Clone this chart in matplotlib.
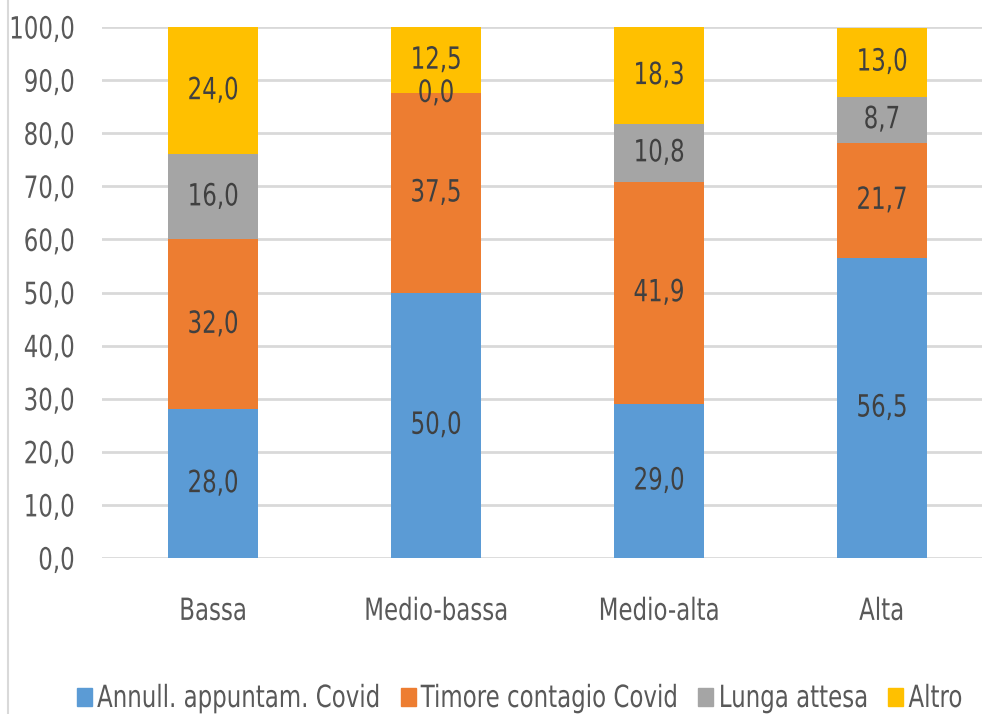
import matplotlib
matplotlib.use("Agg")
import matplotlib.pyplot as plt
import matplotlib.patheffects as pe
from matplotlib.patches import Rectangle
from matplotlib.lines import Line2D
from matplotlib.transforms import Affine2D
import numpy as np

plt.rcParams['font.family'] = ['DejaVu Sans']

categories = ["Bassa", "Medio-bassa", "Medio-alta", "Alta"]
series_names = ["Annull. appuntam. Covid", "Timore contagio Covid", "Lunga attesa", "Altro"]
annull = [28.0, 50.0, 29.0, 56.5]
timore = [32.0, 37.5, 41.9, 21.7]
lunga = [16.0, 0.0, 10.8, 8.7]
altro = [24.0, 12.5, 18.3, 13.0]
colors = ["#5B9BD5", "#ED7D31", "#A5A5A5", "#FFC000"]

SX = 0.75  # the source uses a narrow font, so squeeze text horizontally


class Squeeze(pe.AbstractPathEffect):
    """Draw the text path narrower, keeping one edge (or the centre) fixed."""

    def __init__(self, sx=SX, anchor="center"):
        super().__init__()
        self.sx = sx
        self.anchor = anchor

    def draw_path(self, renderer, gc, tpath, affine, rgbFace=None):
        bb = tpath.get_extents(affine)
        if self.anchor == "left":
            cx = bb.x0
        elif self.anchor == "right":
            cx = bb.x1
        else:
            cx = (bb.x0 + bb.x1) / 2
        t = affine + Affine2D().translate(-cx, 0).scale(self.sx, 1).translate(cx, 0)
        renderer.draw_path(gc, tpath, t, rgbFace)


def fmt(v):
    return f"{v:.1f}".replace(".", ",")


W, H = 982, 714
FS = 22
fig = plt.figure(figsize=(W / 100, H / 100), dpi=100)
ax = fig.add_axes([101.5 / W, 1 - 558 / H, 892 / W, 531 / H])

x = np.arange(len(categories))
bottom = np.zeros(len(categories))
for name, vals, col in zip(series_names, [annull, timore, lunga, altro], colors):
    vals = np.array(vals)
    ax.bar(x, vals, width=0.4, bottom=bottom, color=col, label=name, zorder=2)
    for xi, b, v in zip(x, bottom, vals):
        ax.text(xi, b + v / 2, fmt(v), ha="center", va="center", fontsize=FS,
                color="#404040", zorder=3, path_effects=[Squeeze()])
    bottom += vals

ax.set_xlim(-0.5, 3.5)
ax.set_ylim(0, 100)
yt = np.arange(0, 101, 10)
ax.set_yticks(yt)
ax.set_yticklabels([fmt(v) for v in yt])
ax.set_xticks(x)
ax.set_xticklabels(categories)
ax.tick_params(axis="both", length=0, labelsize=FS, labelcolor="#595959")
ax.tick_params(axis="y", pad=19)
ax.tick_params(axis="x", pad=28)
for t in ax.get_yticklabels():
    t.set_path_effects([Squeeze(anchor="right")])
for t in ax.get_xticklabels():
    t.set_path_effects([Squeeze()])
ax.grid(axis="y", color="#D9D9D9", linewidth=2, zorder=0)
ax.set_axisbelow(True)
for s in ax.spines.values():
    s.set_visible(False)

# chart area border on the left
fig.add_artist(Line2D([8 / W, 8 / W], [0, 1], color="#D9D9D9", linewidth=1.5))

# legend, laid out by hand so the squeezed labels sit close together
renderer = fig.canvas.get_renderer()
px = 77
for name, col in zip(series_names, colors):
    fig.add_artist(Rectangle((px / W, 1 - 706 / H), 15 / W, 18 / H, color=col,
                             transform=fig.transFigure))
    t = fig.text((px + 20) / W, 1 - 707 / H, name, ha="left", va="baseline",
                 fontsize=FS, color="#595959", path_effects=[Squeeze(anchor="left")])
    px = px + 20 + t.get_window_extent(renderer).width * SX + 21

fig.savefig("out.png", dpi=100)
